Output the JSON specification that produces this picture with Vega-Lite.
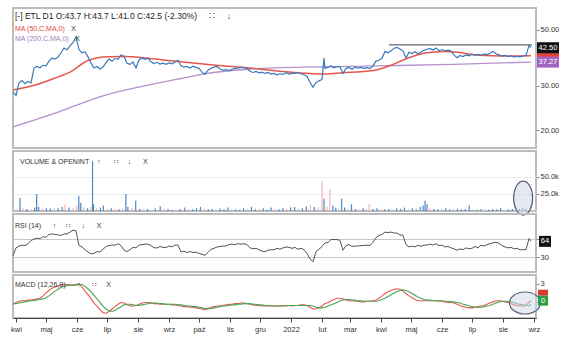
{
"$schema":"https://vega.github.io/schema/vega-lite/v6.json",
"padding":{"left":9,"top":7,"right":0,"bottom":0},
"background":"white",
"bounds":"flush",
"spacing":3,
"resolve":{"scale":{"color":"independent"}},
"config":{"font":"Liberation Sans","view":{"stroke":"#bcbcbc","strokeWidth":2},"axis":{"labelFont":"Liberation Sans","labelFontSize":7.5,"labelColor":"#333","tickColor":"#888","tickSize":3,"labelPadding":1,"domain":false,"grid":false}},
"datasets":{
"px":[
{"d":"2021-03-29","c":28.4,"r":33,"m":-0.4,"s":-0.3},
{"d":"2021-04-01","c":27.5,"r":50,"m":-0.1,"s":-0.3},
{"d":"2021-04-04","c":30.8,"r":54,"m":0.1,"s":-0.2},
{"d":"2021-04-07","c":31.5,"r":56,"m":0.2,"s":-0.1},
{"d":"2021-04-10","c":30.6,"r":55,"m":0.2,"s":0.0},
{"d":"2021-04-13","c":31.2,"r":59,"m":0.3,"s":0.1},
{"d":"2021-04-16","c":30.8,"r":66,"m":0.3,"s":0.2},
{"d":"2021-04-19","c":35.3,"r":69,"m":0.4,"s":0.2},
{"d":"2021-04-22","c":35.8,"r":71,"m":0.5,"s":0.3},
{"d":"2021-04-25","c":35.4,"r":70,"m":0.6,"s":0.4},
{"d":"2021-04-28","c":36.2,"r":74,"m":1.0,"s":0.5},
{"d":"2021-05-01","c":36.0,"r":73,"m":1.5,"s":0.7},
{"d":"2021-05-04","c":37.6,"r":79,"m":1.9,"s":1.0},
{"d":"2021-05-07","c":38.7,"r":80,"m":2.3,"s":1.4},
{"d":"2021-05-10","c":38.3,"r":79,"m":2.5,"s":1.8},
{"d":"2021-05-13","c":39.0,"r":78,"m":2.7,"s":2.1},
{"d":"2021-05-16","c":40.6,"r":77,"m":2.8,"s":2.4},
{"d":"2021-05-19","c":42.4,"r":80,"m":2.9,"s":2.6},
{"d":"2021-05-22","c":41.7,"r":80,"m":2.9,"s":2.7},
{"d":"2021-05-25","c":43.2,"r":84,"m":2.8,"s":2.8},
{"d":"2021-05-28","c":44.6,"r":88,"m":2.8,"s":2.8},
{"d":"2021-05-31","c":46.9,"r":87,"m":2.9,"s":2.8},
{"d":"2021-06-03","c":41.8,"r":55,"m":3.0,"s":2.9},
{"d":"2021-06-06","c":40.6,"r":52,"m":2.5,"s":2.9},
{"d":"2021-06-09","c":41.0,"r":46,"m":1.8,"s":2.6},
{"d":"2021-06-12","c":39.1,"r":41,"m":1.2,"s":2.2},
{"d":"2021-06-15","c":37.0,"r":37,"m":0.5,"s":1.7},
{"d":"2021-06-18","c":35.3,"r":38,"m":-0.2,"s":1.1},
{"d":"2021-06-21","c":35.8,"r":42,"m":-0.7,"s":0.5},
{"d":"2021-06-24","c":35.0,"r":41,"m":-1.3,"s":-0.1},
{"d":"2021-06-27","c":35.6,"r":47,"m":-1.8,"s":-0.7},
{"d":"2021-06-30","c":37.1,"r":53,"m":-1.9,"s":-1.2},
{"d":"2021-07-03","c":38.3,"r":55,"m":-1.6,"s":-1.5},
{"d":"2021-07-06","c":37.6,"r":56,"m":-1.2,"s":-1.6},
{"d":"2021-07-09","c":38.5,"r":56,"m":-0.8,"s":-1.4},
{"d":"2021-07-12","c":38.2,"r":59,"m":-0.4,"s":-1.1},
{"d":"2021-07-15","c":39.8,"r":55,"m":-0.1,"s":-0.8},
{"d":"2021-07-18","c":39.3,"r":45,"m":-0.2,"s":-0.5},
{"d":"2021-07-21","c":36.9,"r":42,"m":-0.5,"s":-0.4},
{"d":"2021-07-24","c":36.5,"r":46,"m":-0.7,"s":-0.4},
{"d":"2021-07-27","c":37.3,"r":51,"m":-0.7,"s":-0.5},
{"d":"2021-07-30","c":35.3,"r":50,"m":-0.6,"s":-0.6},
{"d":"2021-08-02","c":38.0,"r":56,"m":-0.4,"s":-0.6},
{"d":"2021-08-05","c":38.7,"r":57,"m":-0.2,"s":-0.5},
{"d":"2021-08-08","c":38.2,"r":58,"m":-0.1,"s":-0.4},
{"d":"2021-08-11","c":38.6,"r":58,"m":-0.1,"s":-0.3},
{"d":"2021-08-14","c":37.4,"r":55,"m":-0.2,"s":-0.2},
{"d":"2021-08-17","c":36.8,"r":50,"m":-0.3,"s":-0.2},
{"d":"2021-08-20","c":37.2,"r":50,"m":-0.3,"s":-0.2},
{"d":"2021-08-23","c":36.6,"r":53,"m":-0.4,"s":-0.3},
{"d":"2021-08-26","c":36.9,"r":51,"m":-0.4,"s":-0.3},
{"d":"2021-08-29","c":36.5,"r":51,"m":-0.4,"s":-0.4},
{"d":"2021-09-01","c":37.0,"r":54,"m":-0.4,"s":-0.4},
{"d":"2021-09-04","c":36.7,"r":52,"m":-0.5,"s":-0.4},
{"d":"2021-09-07","c":37.3,"r":56,"m":-0.5,"s":-0.4},
{"d":"2021-09-10","c":37.9,"r":56,"m":-0.6,"s":-0.5},
{"d":"2021-09-13","c":36.0,"r":41,"m":-0.7,"s":-0.5},
{"d":"2021-09-16","c":35.6,"r":43,"m":-0.8,"s":-0.6},
{"d":"2021-09-19","c":35.8,"r":40,"m":-0.8,"s":-0.7},
{"d":"2021-09-22","c":35.3,"r":42,"m":-0.9,"s":-0.7},
{"d":"2021-09-25","c":35.9,"r":40,"m":-0.9,"s":-0.8},
{"d":"2021-09-28","c":35.5,"r":41,"m":-1.0,"s":-0.8},
{"d":"2021-10-01","c":35.2,"r":38,"m":-1.1,"s":-0.9},
{"d":"2021-10-04","c":34.0,"r":36,"m":-1.2,"s":-1.0},
{"d":"2021-10-07","c":33.4,"r":34,"m":-1.3,"s":-1.1},
{"d":"2021-10-10","c":34.6,"r":40,"m":-1.1,"s":-1.2},
{"d":"2021-10-13","c":35.2,"r":47,"m":-0.9,"s":-1.1},
{"d":"2021-10-16","c":35.6,"r":49,"m":-0.8,"s":-1.0},
{"d":"2021-10-19","c":35.8,"r":52,"m":-0.7,"s":-0.9},
{"d":"2021-10-22","c":35.0,"r":53,"m":-0.7,"s":-0.8},
{"d":"2021-10-25","c":34.6,"r":54,"m":-0.6,"s":-0.7},
{"d":"2021-10-28","c":34.8,"r":54,"m":-0.5,"s":-0.7},
{"d":"2021-10-31","c":34.5,"r":57,"m":-0.4,"s":-0.6},
{"d":"2021-11-03","c":34.9,"r":58,"m":-0.4,"s":-0.5},
{"d":"2021-11-06","c":35.2,"r":57,"m":-0.3,"s":-0.5},
{"d":"2021-11-09","c":35.3,"r":59,"m":-0.3,"s":-0.4},
{"d":"2021-11-12","c":35.5,"r":58,"m":-0.2,"s":-0.4},
{"d":"2021-11-15","c":35.4,"r":59,"m":-0.2,"s":-0.3},
{"d":"2021-11-18","c":35.2,"r":57,"m":-0.3,"s":-0.3},
{"d":"2021-11-21","c":34.3,"r":50,"m":-0.4,"s":-0.3},
{"d":"2021-11-24","c":33.9,"r":48,"m":-0.5,"s":-0.4},
{"d":"2021-11-27","c":34.2,"r":49,"m":-0.6,"s":-0.4},
{"d":"2021-11-30","c":33.8,"r":46,"m":-0.6,"s":-0.5},
{"d":"2021-12-03","c":34.0,"r":43,"m":-0.7,"s":-0.5},
{"d":"2021-12-06","c":33.6,"r":42,"m":-0.7,"s":-0.6},
{"d":"2021-12-09","c":33.9,"r":45,"m":-0.7,"s":-0.6},
{"d":"2021-12-12","c":33.4,"r":46,"m":-0.7,"s":-0.7},
{"d":"2021-12-15","c":33.6,"r":46,"m":-0.7,"s":-0.7},
{"d":"2021-12-18","c":33.2,"r":49,"m":-0.7,"s":-0.7},
{"d":"2021-12-21","c":33.5,"r":47,"m":-0.7,"s":-0.7},
{"d":"2021-12-24","c":33.3,"r":50,"m":-0.6,"s":-0.7},
{"d":"2021-12-27","c":33.8,"r":52,"m":-0.6,"s":-0.7},
{"d":"2021-12-30","c":33.4,"r":51,"m":-0.6,"s":-0.6},
{"d":"2022-01-02","c":33.7,"r":49,"m":-0.7,"s":-0.6},
{"d":"2022-01-05","c":33.6,"r":51,"m":-0.6,"s":-0.6},
{"d":"2022-01-08","c":33.9,"r":47,"m":-0.6,"s":-0.6},
{"d":"2022-01-11","c":33.5,"r":49,"m":-0.5,"s":-0.6},
{"d":"2022-01-14","c":33.2,"r":46,"m":-0.5,"s":-0.6},
{"d":"2022-01-17","c":32.7,"r":38,"m":-0.6,"s":-0.6},
{"d":"2022-01-20","c":31.0,"r":26,"m":-0.9,"s":-0.6},
{"d":"2022-01-23","c":29.6,"r":20,"m":-1.2,"s":-0.7},
{"d":"2022-01-26","c":30.9,"r":42,"m":-1.2,"s":-0.9},
{"d":"2022-01-29","c":31.4,"r":47,"m":-1.0,"s":-1.0},
{"d":"2022-02-01","c":31.8,"r":53,"m":-0.7,"s":-1.0},
{"d":"2022-02-03","c":38.7,"r":59,"m":-0.4,"s":-0.9},
{"d":"2022-02-04","c":35.2,"r":60,"m":-0.3,"s":-0.9},
{"d":"2022-02-07","c":35.6,"r":62,"m":-0.1,"s":-0.7},
{"d":"2022-02-10","c":36.0,"r":68,"m":0.2,"s":-0.5},
{"d":"2022-02-13","c":35.4,"r":68,"m":0.4,"s":-0.3},
{"d":"2022-02-16","c":35.8,"r":68,"m":0.6,"s":-0.1},
{"d":"2022-02-19","c":35.6,"r":66,"m":0.6,"s":0.2},
{"d":"2022-02-22","c":33.6,"r":45,"m":0.5,"s":0.3},
{"d":"2022-02-25","c":35.2,"r":55,"m":0.3,"s":0.4},
{"d":"2022-02-28","c":35.5,"r":57,"m":0.2,"s":0.4},
{"d":"2022-03-03","c":34.9,"r":53,"m":0.2,"s":0.3},
{"d":"2022-03-06","c":35.6,"r":54,"m":0.1,"s":0.3},
{"d":"2022-03-09","c":35.3,"r":54,"m":0.1,"s":0.2},
{"d":"2022-03-12","c":35.5,"r":55,"m":0.0,"s":0.2},
{"d":"2022-03-15","c":35.2,"r":55,"m":0.0,"s":0.1},
{"d":"2022-03-18","c":35.4,"r":56,"m":0.1,"s":0.1},
{"d":"2022-03-21","c":35.1,"r":55,"m":0.1,"s":0.1},
{"d":"2022-03-24","c":36.0,"r":62,"m":0.2,"s":0.1},
{"d":"2022-03-27","c":37.6,"r":72,"m":0.3,"s":0.1},
{"d":"2022-03-30","c":37.9,"r":77,"m":0.6,"s":0.2},
{"d":"2022-04-02","c":38.6,"r":79,"m":1.0,"s":0.4},
{"d":"2022-04-05","c":41.1,"r":84,"m":1.4,"s":0.6},
{"d":"2022-04-08","c":40.6,"r":83,"m":1.7,"s":0.9},
{"d":"2022-04-11","c":41.3,"r":84,"m":1.9,"s":1.2},
{"d":"2022-04-14","c":42.3,"r":82,"m":2.1,"s":1.5},
{"d":"2022-04-17","c":42.6,"r":82,"m":2.2,"s":1.7},
{"d":"2022-04-20","c":42.0,"r":78,"m":2.1,"s":1.9},
{"d":"2022-04-23","c":41.2,"r":77,"m":1.8,"s":2.0},
{"d":"2022-04-26","c":38.7,"r":57,"m":1.4,"s":1.9},
{"d":"2022-04-29","c":40.8,"r":52,"m":1.0,"s":1.7},
{"d":"2022-05-02","c":40.3,"r":54,"m":0.7,"s":1.4},
{"d":"2022-05-05","c":41.0,"r":52,"m":0.4,"s":1.1},
{"d":"2022-05-08","c":40.2,"r":56,"m":0.2,"s":0.8},
{"d":"2022-05-11","c":40.9,"r":53,"m":0.2,"s":0.6},
{"d":"2022-05-14","c":41.5,"r":56,"m":0.2,"s":0.4},
{"d":"2022-05-17","c":41.9,"r":56,"m":0.2,"s":0.3},
{"d":"2022-05-20","c":42.2,"r":58,"m":0.2,"s":0.3},
{"d":"2022-05-23","c":41.6,"r":56,"m":0.2,"s":0.2},
{"d":"2022-05-26","c":42.4,"r":59,"m":0.2,"s":0.2},
{"d":"2022-05-29","c":41.4,"r":55,"m":0.1,"s":0.2},
{"d":"2022-06-01","c":41.8,"r":56,"m":0.1,"s":0.2},
{"d":"2022-06-04","c":41.3,"r":52,"m":0.0,"s":0.1},
{"d":"2022-06-07","c":41.6,"r":53,"m":-0.1,"s":0.1},
{"d":"2022-06-10","c":41.2,"r":50,"m":-0.1,"s":0.0},
{"d":"2022-06-13","c":39.8,"r":48,"m":-0.2,"s":0.0},
{"d":"2022-06-16","c":38.8,"r":45,"m":-0.4,"s":-0.1},
{"d":"2022-06-19","c":39.6,"r":48,"m":-0.6,"s":-0.2},
{"d":"2022-06-22","c":39.2,"r":46,"m":-0.8,"s":-0.4},
{"d":"2022-06-25","c":39.8,"r":50,"m":-0.9,"s":-0.5},
{"d":"2022-06-28","c":39.5,"r":48,"m":-1.0,"s":-0.7},
{"d":"2022-07-01","c":40.1,"r":49,"m":-1.0,"s":-0.8},
{"d":"2022-07-04","c":39.7,"r":53,"m":-0.9,"s":-0.9},
{"d":"2022-07-07","c":40.0,"r":50,"m":-0.8,"s":-0.9},
{"d":"2022-07-10","c":39.6,"r":56,"m":-0.7,"s":-0.9},
{"d":"2022-07-13","c":40.2,"r":54,"m":-0.6,"s":-0.8},
{"d":"2022-07-16","c":39.9,"r":57,"m":-0.4,"s":-0.7},
{"d":"2022-07-19","c":40.4,"r":59,"m":-0.2,"s":-0.6},
{"d":"2022-07-22","c":41.1,"r":61,"m":0.0,"s":-0.4},
{"d":"2022-07-25","c":40.2,"r":62,"m":0.2,"s":-0.2},
{"d":"2022-07-28","c":39.8,"r":60,"m":0.2,"s":0.0},
{"d":"2022-07-31","c":39.4,"r":55,"m":0.1,"s":0.1},
{"d":"2022-08-03","c":39.6,"r":52,"m":0.0,"s":0.1},
{"d":"2022-08-06","c":39.2,"r":50,"m":-0.1,"s":0.1},
{"d":"2022-08-09","c":39.5,"r":51,"m":-0.3,"s":0.0},
{"d":"2022-08-12","c":39.0,"r":48,"m":-0.5,"s":-0.1},
{"d":"2022-08-15","c":39.3,"r":49,"m":-0.6,"s":-0.3},
{"d":"2022-08-18","c":39.1,"r":46,"m":-0.7,"s":-0.4},
{"d":"2022-08-21","c":39.4,"r":46,"m":-0.7,"s":-0.5},
{"d":"2022-08-24","c":39.6,"r":46,"m":-0.6,"s":-0.6},
{"d":"2022-08-27","c":43.4,"r":70,"m":-0.1,"s":-0.6},
{"d":"2022-08-29","c":42.5,"r":64,"m":0.2,"s":-0.5}
],
"ma50":[
{"d":"2021-03-29","v":28.9},{"d":"2021-04-21","v":30.3},{"d":"2021-05-08","v":32.0},{"d":"2021-05-25","v":34.0},{"d":"2021-06-12","v":37.8},{"d":"2021-07-02","v":39.1},{"d":"2021-07-19","v":39.2},{"d":"2021-08-06","v":38.8},{"d":"2021-08-26","v":38.0},{"d":"2021-09-20","v":37.1},{"d":"2021-10-18","v":36.2},{"d":"2021-11-21","v":35.3},{"d":"2021-12-24","v":34.2},{"d":"2022-01-20","v":33.6},{"d":"2022-02-04","v":33.4},{"d":"2022-02-22","v":33.8},{"d":"2022-03-14","v":34.2},{"d":"2022-03-26","v":34.6},{"d":"2022-04-11","v":36.2},{"d":"2022-04-28","v":38.7},{"d":"2022-05-15","v":40.5},{"d":"2022-06-04","v":41.1},{"d":"2022-06-17","v":40.8},{"d":"2022-07-04","v":39.8},{"d":"2022-08-06","v":39.4},{"d":"2022-08-29","v":39.5}
],
"ma200":[
{"d":"2021-03-29","v":20.6},{"d":"2021-05-08","v":23.2},{"d":"2021-06-27","v":27.4},{"d":"2021-08-16","v":30.5},{"d":"2021-09-20","v":32.5},{"d":"2021-10-05","v":33.4},{"d":"2021-11-24","v":35.0},{"d":"2022-01-13","v":35.6},{"d":"2022-03-27","v":36.0},{"d":"2022-06-12","v":36.5},{"d":"2022-08-29","v":37.27}
],
"vol":[
{"d":"2021-03-31","v":19000,"k":"u"},{"d":"2021-04-03","v":4000,"k":"d"},{"d":"2021-04-07","v":3000,"k":"u"},{"d":"2021-04-11","v":2500,"k":"d"},{"d":"2021-04-15","v":5000,"k":"u"},{"d":"2021-04-17","v":25000,"k":"u"},{"d":"2021-04-19","v":6000,"k":"u"},{"d":"2021-04-23","v":3000,"k":"d"},{"d":"2021-04-27","v":4000,"k":"u"},{"d":"2021-05-01","v":3500,"k":"u"},{"d":"2021-05-05","v":5000,"k":"d"},{"d":"2021-05-09","v":4000,"k":"u"},{"d":"2021-05-13","v":6000,"k":"u"},{"d":"2021-05-16","v":10000,"k":"d"},{"d":"2021-05-20","v":5000,"k":"u"},{"d":"2021-05-24","v":4000,"k":"d"},{"d":"2021-05-28","v":8000,"k":"d"},{"d":"2021-05-30","v":22000,"k":"u"},{"d":"2021-06-01","v":12000,"k":"u"},{"d":"2021-06-04","v":5000,"k":"d"},{"d":"2021-06-08","v":4000,"k":"u"},{"d":"2021-06-11","v":6000,"k":"d"},{"d":"2021-06-13","v":73000,"k":"u"},{"d":"2021-06-14","v":10000,"k":"u"},{"d":"2021-06-17","v":4000,"k":"d"},{"d":"2021-06-21","v":5000,"k":"u"},{"d":"2021-06-24","v":8000,"k":"u"},{"d":"2021-06-28","v":3000,"k":"d"},{"d":"2021-07-02","v":4000,"k":"u"},{"d":"2021-07-06","v":3000,"k":"d"},{"d":"2021-07-10","v":2500,"k":"u"},{"d":"2021-07-14","v":4000,"k":"d"},{"d":"2021-07-17","v":25000,"k":"u"},{"d":"2021-07-19","v":6000,"k":"u"},{"d":"2021-07-23","v":4000,"k":"d"},{"d":"2021-07-27","v":15000,"k":"u"},{"d":"2021-07-31","v":3000,"k":"u"},{"d":"2021-08-04","v":2500,"k":"d"},{"d":"2021-08-08","v":3000,"k":"u"},{"d":"2021-08-12","v":2000,"k":"d"},{"d":"2021-08-16","v":3500,"k":"u"},{"d":"2021-08-21","v":7000,"k":"u"},{"d":"2021-08-25","v":2500,"k":"d"},{"d":"2021-08-29","v":3000,"k":"u"},{"d":"2021-09-02","v":2000,"k":"u"},{"d":"2021-09-06","v":2500,"k":"d"},{"d":"2021-09-10","v":3000,"k":"u"},{"d":"2021-09-15","v":5000,"k":"u"},{"d":"2021-09-19","v":3000,"k":"d"},{"d":"2021-09-23","v":2500,"k":"u"},{"d":"2021-09-27","v":4000,"k":"u"},{"d":"2021-10-01","v":6000,"k":"u"},{"d":"2021-10-05","v":3000,"k":"d"},{"d":"2021-10-09","v":2500,"k":"u"},{"d":"2021-10-13","v":3000,"k":"u"},{"d":"2021-10-17","v":2000,"k":"d"},{"d":"2021-10-21","v":3500,"k":"u"},{"d":"2021-10-25","v":2500,"k":"u"},{"d":"2021-10-29","v":5000,"k":"u"},{"d":"2021-11-02","v":3000,"k":"d"},{"d":"2021-11-06","v":2500,"k":"u"},{"d":"2021-11-10","v":2000,"k":"u"},{"d":"2021-11-14","v":4000,"k":"u"},{"d":"2021-11-18","v":3000,"k":"d"},{"d":"2021-11-22","v":6000,"k":"u"},{"d":"2021-11-26","v":2500,"k":"u"},{"d":"2021-11-30","v":3000,"k":"d"},{"d":"2021-12-04","v":4000,"k":"u"},{"d":"2021-12-08","v":2000,"k":"u"},{"d":"2021-12-12","v":5000,"k":"u"},{"d":"2021-12-16","v":3000,"k":"d"},{"d":"2021-12-20","v":2500,"k":"u"},{"d":"2021-12-24","v":4000,"k":"u"},{"d":"2021-12-28","v":3000,"k":"d"},{"d":"2022-01-01","v":5000,"k":"u"},{"d":"2022-01-05","v":6000,"k":"u"},{"d":"2022-01-09","v":3000,"k":"d"},{"d":"2022-01-13","v":4000,"k":"u"},{"d":"2022-01-17","v":7000,"k":"u"},{"d":"2022-01-21","v":9000,"k":"d"},{"d":"2022-01-25","v":6000,"k":"u"},{"d":"2022-01-29","v":5000,"k":"d"},{"d":"2022-02-02","v":44000,"k":"d"},{"d":"2022-02-04","v":18000,"k":"u"},{"d":"2022-02-07","v":6000,"k":"d"},{"d":"2022-02-10","v":32000,"k":"d"},{"d":"2022-02-13","v":8000,"k":"u"},{"d":"2022-02-16","v":5000,"k":"u"},{"d":"2022-02-19","v":4000,"k":"d"},{"d":"2022-02-22","v":18000,"k":"u"},{"d":"2022-02-25","v":5000,"k":"u"},{"d":"2022-02-28","v":3000,"k":"d"},{"d":"2022-03-04","v":10000,"k":"u"},{"d":"2022-03-08","v":3000,"k":"u"},{"d":"2022-03-12","v":2500,"k":"d"},{"d":"2022-03-16","v":4000,"k":"u"},{"d":"2022-03-19","v":3000,"k":"d"},{"d":"2022-03-22","v":10000,"k":"d"},{"d":"2022-03-26","v":3000,"k":"u"},{"d":"2022-03-30","v":4000,"k":"u"},{"d":"2022-04-03","v":3000,"k":"d"},{"d":"2022-04-07","v":2500,"k":"u"},{"d":"2022-04-11","v":3000,"k":"u"},{"d":"2022-04-15","v":2000,"k":"d"},{"d":"2022-04-19","v":3500,"k":"u"},{"d":"2022-04-23","v":3000,"k":"u"},{"d":"2022-04-27","v":5000,"k":"u"},{"d":"2022-05-01","v":3000,"k":"d"},{"d":"2022-05-05","v":4000,"k":"u"},{"d":"2022-05-09","v":2500,"k":"u"},{"d":"2022-05-13","v":6000,"k":"u"},{"d":"2022-05-16","v":8000,"k":"u"},{"d":"2022-05-18","v":15000,"k":"u"},{"d":"2022-05-20","v":10000,"k":"u"},{"d":"2022-05-23","v":4000,"k":"d"},{"d":"2022-05-27","v":3000,"k":"u"},{"d":"2022-05-31","v":2500,"k":"u"},{"d":"2022-06-04","v":3000,"k":"d"},{"d":"2022-06-08","v":4000,"k":"u"},{"d":"2022-06-12","v":2500,"k":"u"},{"d":"2022-06-16","v":3000,"k":"d"},{"d":"2022-06-20","v":3500,"k":"u"},{"d":"2022-06-24","v":2500,"k":"u"},{"d":"2022-06-28","v":3000,"k":"u"},{"d":"2022-07-02","v":8000,"k":"u"},{"d":"2022-07-06","v":2500,"k":"d"},{"d":"2022-07-10","v":2000,"k":"u"},{"d":"2022-07-14","v":3000,"k":"u"},{"d":"2022-07-18","v":2500,"k":"d"},{"d":"2022-07-22","v":2000,"k":"u"},{"d":"2022-07-26","v":3000,"k":"u"},{"d":"2022-07-30","v":2500,"k":"u"},{"d":"2022-08-03","v":4000,"k":"u"},{"d":"2022-08-07","v":2000,"k":"d"},{"d":"2022-08-11","v":2500,"k":"u"},{"d":"2022-08-15","v":3000,"k":"u"},{"d":"2022-08-19","v":2500,"k":"d"},{"d":"2022-08-22","v":3000,"k":"u"},{"d":"2022-08-25","v":5000,"k":"u"},{"d":"2022-08-27","v":4000,"k":"d"},{"d":"2022-08-29","v":3000,"k":"u"}
],
"res":[{"start":"2022-04-09","end":"2022-08-30","level":43.6}],
"plast":[{"d":"2022-08-29","v":39.5,"k":"ma50","lbl":""},{"d":"2022-08-29","v":37.27,"k":"ma200","lbl":"37.27"},{"d":"2022-08-29","v":42.5,"k":"px","lbl":"42.50"}]
},
"vconcat":[
{
"width":523,"height":140,
"encoding":{"x":{"field":"d","type":"temporal","scale":{"type":"utc","domain":[{"year":2021,"month":3,"date":29,"utc":true},{"year":2022,"month":9,"date":3,"utc":true}]},"axis":null}},
"layer":[
{"data":{"name":"ma200"},"mark":{"type":"line","color":"#b592cc","strokeWidth":1.3,"interpolate":"monotone"},"encoding":{"y":{"field":"v","type":"quantitative","scale":{"type":"log","domain":[17,61.1],"nice":false},"axis":{"orient":"right","values":[20,30,50],"format":".2f","title":null}}}},
{"data":{"name":"ma50"},"mark":{"type":"line","color":"#e4574c","strokeWidth":1.5,"interpolate":"monotone"},"encoding":{"y":{"field":"v","type":"quantitative"}}},
{"data":{"name":"px"},"mark":{"type":"line","color":"#3a78bd","strokeWidth":1.2},"encoding":{"y":{"field":"c","type":"quantitative"}}},
{"data":{"name":"res"},"mark":{"type":"rule","color":"#666666","strokeWidth":1.3},"encoding":{"x":{"field":"start","type":"temporal"},"x2":{"field":"end"},"y":{"field":"level","type":"quantitative"}}},
{"data":{"name":"plast"},"mark":{"type":"point","shape":"M-1.1,-0.55H1.1V0.55H-1.1Z","size":400,"filled":true,"opacity":1,"xOffset":17},"encoding":{"y":{"field":"v","type":"quantitative"},"color":{"field":"k","type":"nominal","scale":{"domain":["ma50","ma200","px"],"range":["#e0453c","#a364c4","#111111"]},"legend":null}}},
{"data":{"name":"plast"},"mark":{"type":"text","xOffset":17,"color":"white","fontSize":7.5,"align":"center","baseline":"middle"},"encoding":{"y":{"field":"v","type":"quantitative"},"text":{"field":"lbl"}}},
{"data":{"values":[{"d":"2021-03-31","t":"[-] ETL D1 O:43.7 H:43.7 L:41.0 C:42.5 (-2.30%)\u00a0\u00a0\u00a0\u00a0\u00a0∷\u00a0\u00a0\u00a0\u00a0\u00a0↓"}]},"mark":{"type":"text","align":"left","baseline":"middle","fontSize":8.5,"color":"#222"},"encoding":{"y":{"datum":56.85,"type":"quantitative"},"text":{"field":"t"}}},
{"data":{"values":[{"d":"2021-03-31","t":"MA (50,C,MA,0)"}]},"mark":{"type":"text","align":"left","baseline":"middle","fontSize":7,"color":"#e0453c"},"encoding":{"y":{"datum":50.5,"type":"quantitative"},"text":{"field":"t"}}},
{"data":{"values":[{"d":"2021-03-31","t":"MA (200,C,MA,0)"}]},"mark":{"type":"text","align":"left","baseline":"middle","fontSize":7,"color":"#a07cc0"},"encoding":{"y":{"datum":45.9,"type":"quantitative"},"text":{"field":"t"}}},
{"data":{"values":[{"d":"2021-05-26","t":"X"}]},"mark":{"type":"text","align":"left","baseline":"middle","fontSize":7.5,"color":"#444"},"encoding":{"y":{"datum":50.5,"type":"quantitative"},"text":{"field":"t"}}},
{"data":{"values":[{"d":"2021-05-30","t":"X"}]},"mark":{"type":"text","align":"left","baseline":"middle","fontSize":7.5,"color":"#444"},"encoding":{"y":{"datum":45.9,"type":"quantitative"},"text":{"field":"t"}}}
]
},
{
"width":523,"height":60,
"encoding":{"x":{"field":"d","type":"temporal","scale":{"type":"utc","domain":[{"year":2021,"month":3,"date":29,"utc":true},{"year":2022,"month":9,"date":3,"utc":true}]},"axis":null}},
"layer":[
{"data":{"name":"vol"},"mark":{"type":"bar","width":1.2},"encoding":{"y":{"field":"v","type":"quantitative","scale":{"domain":[0,88000],"nice":false},"axis":{"orient":"right","values":[25000,50000],"labelExpr":"format(datum.value/1000,'.1f')+'k'","grid":true,"gridColor":"#ececec","title":null}},"color":{"field":"k","type":"nominal","scale":{"domain":["u","d"],"range":["#4a88c8","#f2b4b4"]},"legend":null}}},
{"data":{"values":[{"d":"2022-08-26","v":19000}]},"mark":{"type":"point","shape":"M0,-1.79A1,1.79,0,1,1,0,1.79A1,1.79,0,1,1,0,-1.79Z","size":361,"filled":true,"fill":"#cdd8ea","fillOpacity":0.55,"stroke":"#5a6372","strokeWidth":1.2,"opacity":1},"encoding":{"y":{"field":"v","type":"quantitative"}}},
{"data":{"values":[{"d":"2021-03-31","t":"VOLUME & OPENINT\u00a0\u00a0\u00a0\u00a0↑\u00a0\u00a0\u00a0\u00a0\u00a0\u00a0\u00a0∷\u00a0\u00a0\u00a0\u00a0\u00a0↓\u00a0\u00a0\u00a0\u00a0\u00a0\u00a0X"}]},"mark":{"type":"text","align":"left","baseline":"middle","fontSize":7,"color":"#333"},"encoding":{"y":{"datum":72300,"type":"quantitative"},"text":{"field":"t"}}}
]
},
{
"width":523,"height":58,
"encoding":{"x":{"field":"d","type":"temporal","scale":{"type":"utc","domain":[{"year":2021,"month":3,"date":29,"utc":true},{"year":2022,"month":9,"date":3,"utc":true}]},"axis":null}},
"layer":[
{"data":{"name":"px"},"mark":{"type":"line","color":"#555555","strokeWidth":1},"encoding":{"y":{"field":"r","type":"quantitative","scale":{"domain":[-2,123],"nice":false,"zero":false},"axis":{"orient":"right","values":[30,70],"labelExpr":"datum.value == 70 ? '' : datum.label","grid":true,"gridColor":"#c8c8c8","title":null}}}},
{"data":{"values":[{"d":"2022-08-29","v":64,"lbl":"64"}]},"mark":{"type":"point","shape":"M-0.6,-0.55H0.6V0.55H-0.6Z","size":400,"filled":true,"opacity":1,"color":"#111111","xOffset":14},"encoding":{"y":{"field":"v","type":"quantitative"}}},
{"data":{"values":[{"d":"2022-08-29","v":64,"lbl":"64"}]},"mark":{"type":"text","xOffset":14,"color":"white","fontSize":7.5,"align":"center","baseline":"middle"},"encoding":{"y":{"field":"v","type":"quantitative"},"text":{"field":"lbl"}}},
{"data":{"values":[{"d":"2021-03-31","t":"RSI (14)\u00a0\u00a0\u00a0\u00a0\u00a0\u00a0↑\u00a0\u00a0\u00a0\u00a0\u00a0∷\u00a0\u00a0\u00a0\u00a0\u00a0\u00a0↓\u00a0\u00a0\u00a0\u00a0\u00a0\u00a0X"}]},"mark":{"type":"text","align":"left","baseline":"middle","fontSize":7,"color":"#333"},"encoding":{"y":{"datum":97,"type":"quantitative"},"text":{"field":"t"}}}
]
},
{
"width":523,"height":43,
"encoding":{"x":{"field":"d","type":"temporal","scale":{"type":"utc","domain":[{"year":2021,"month":3,"date":29,"utc":true},{"year":2022,"month":9,"date":3,"utc":true}]},"axis":{"orient":"bottom","title":null,"tickCount":{"interval":"month","step":1},"labelExpr":"utcmonth(datum.value) == 0 ? utcFormat(datum.value, '%Y') : ['sty','lut','mar','kwi','maj','cze','lip','sie','wrz','paź','lis','gru'][utcmonth(datum.value)]","labelOverlap":false,"labelFontSize":7.5,"tickSize":4,"domain":true,"domainColor":"#444","tickColor":"#444","labelPadding":3,"grid":false}}},
"layer":[
{"data":{"name":"px"},"mark":{"type":"line","color":"#e5594f","strokeWidth":1.1},"encoding":{"y":{"field":"m","type":"quantitative","scale":{"domain":[-2.7,4.5],"nice":false,"zero":false},"axis":{"orient":"right","values":[0,3],"labelExpr":"datum.value == 0 ? '' : datum.label","title":null}}}},
{"data":{"name":"px"},"mark":{"type":"line","color":"#45a557","strokeWidth":1.1},"encoding":{"y":{"field":"s","type":"quantitative"}}},
{"data":{"values":[{"d":"2022-08-23","v":-0.19}]},"mark":{"type":"point","shape":"M-1,0A1,0.71,0,1,1,1,0A1,0.71,0,1,1,-1,0Z","size":961,"filled":true,"fill":"#cdd8ea","fillOpacity":0.5,"stroke":"#5a6372","strokeWidth":1.2,"opacity":1},"encoding":{"y":{"field":"v","type":"quantitative"}}},
{"data":{"values":[{"d":"2022-08-29","v":0.2,"lbl":"0"}]},"mark":{"type":"point","shape":"M-0.5,-0.3H0.5V0.3H-0.5Z","size":400,"filled":true,"opacity":1,"color":"#d93a32","xOffset":12,"yOffset":-8},"encoding":{"y":{"field":"v","type":"quantitative"}}},
{"data":{"values":[{"d":"2022-08-29","v":0.2,"lbl":"0"}]},"mark":{"type":"point","shape":"M-0.5,-0.5H0.5V0.5H-0.5Z","size":400,"filled":true,"opacity":1,"color":"#2f9e44","xOffset":12},"encoding":{"y":{"field":"v","type":"quantitative"}}},
{"data":{"values":[{"d":"2022-08-29","v":0.2,"lbl":"0"}]},"mark":{"type":"text","xOffset":12,"color":"white","fontSize":7.5,"align":"center","baseline":"middle"},"encoding":{"y":{"field":"v","type":"quantitative"},"text":{"field":"lbl"}}},
{"data":{"values":[{"d":"2021-03-31","t":"MACD (12,26,9)\u00a0\u00a0\u00a0\u00a0\u00a0\u00a0↑\u00a0\u00a0\u00a0\u00a0\u00a0\u00a0∷\u00a0\u00a0\u00a0\u00a0\u00a0X"}]},"mark":{"type":"text","align":"left","baseline":"middle","fontSize":7,"color":"#333"},"encoding":{"y":{"datum":2.83,"type":"quantitative"},"text":{"field":"t"}}}
]
}
]
}
